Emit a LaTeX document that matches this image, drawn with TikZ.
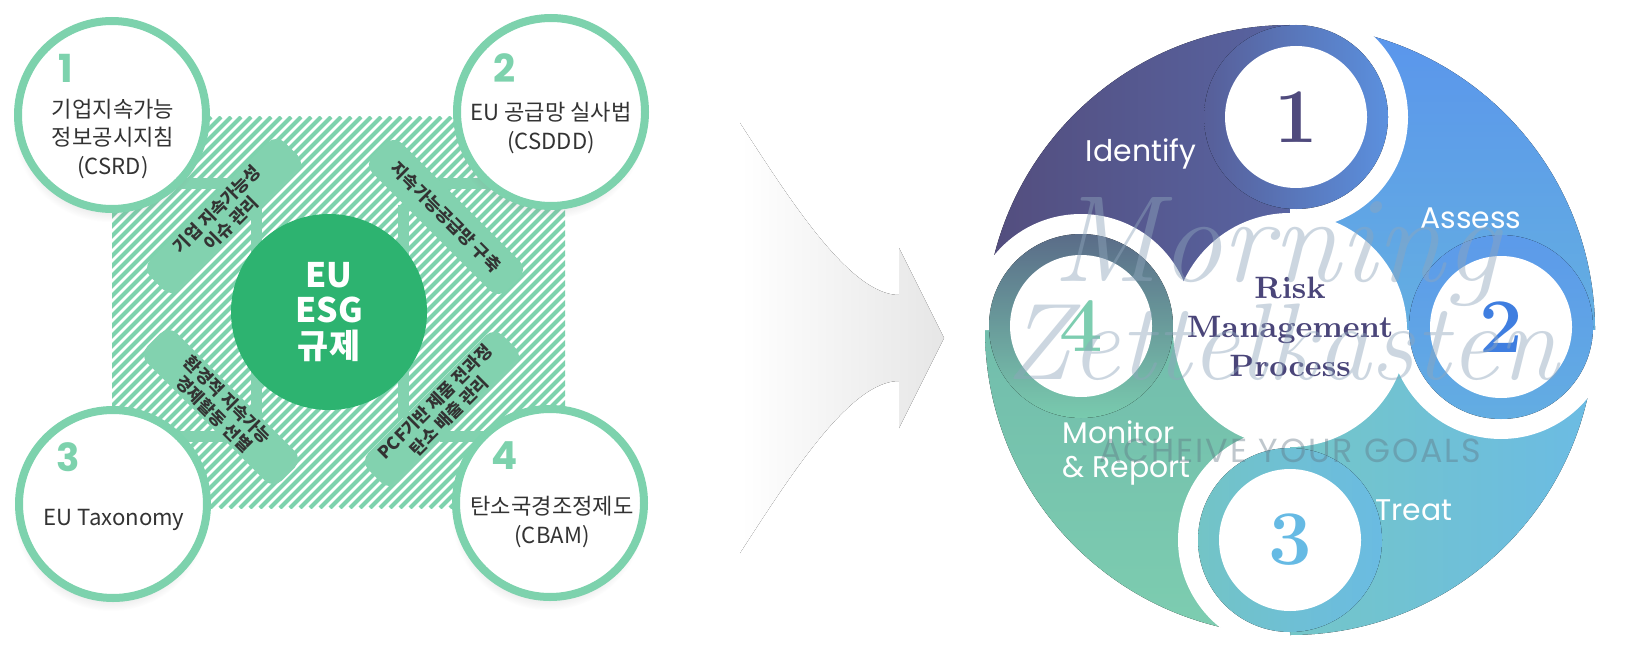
\documentclass[tikz,border=0pt]{standalone}
\usepackage{fontspec}
\newfontfamily\kr{Noto Sans CJK KR}
\newfontfamily\poppins{Poppins}
\newfontfamily\wmsans[LetterSpace=6]{Poppins}
\usetikzlibrary{shadows,backgrounds}
% colours of the left diagram
\definecolor{ringgreen}{HTML}{7DD2AD}
\definecolor{bandgreen}{HTML}{82D2AF}
\definecolor{esggreen}{HTML}{2DB370}
\definecolor{textgray}{HTML}{333333}
\definecolor{arrowgray}{HTML}{E6E6E6}
% colours of the risk wheel
\definecolor{idA}{HTML}{534D7D}
\definecolor{idB}{HTML}{5864A2}
\definecolor{asA}{HTML}{5A95EC}
\definecolor{asB}{HTML}{64AFE1}
\definecolor{trA}{HTML}{74C6C8}
\definecolor{trB}{HTML}{6BBBE4}
\definecolor{moA}{HTML}{72BDAC}
\definecolor{moB}{HTML}{7DCDB0}
\definecolor{rA}{HTML}{575E98}
\definecolor{rB}{HTML}{5B90DE}
\definecolor{rC}{HTML}{5C9AEA}
\definecolor{rD}{HTML}{63ADE2}
\definecolor{rE}{HTML}{73C4C6}
\definecolor{rF}{HTML}{6ABBE2}
\definecolor{rG}{HTML}{5A6C88}
\definecolor{rH}{HTML}{79CBAE}
\definecolor{num1}{HTML}{4F4A7D}
\definecolor{num2}{HTML}{3F7EE0}
\definecolor{num3}{HTML}{66BAE4}
\definecolor{num4}{HTML}{7DCDB0}
\definecolor{rmpcol}{HTML}{4A4579}
\definecolor{wmgray}{HTML}{8FA6BC}
\definecolor{wmdark}{HTML}{5F7382}
\tikzset{
  topic/.style={circle, draw=ringgreen, line width=0.8mm, fill=white, minimum size=18.8mm, inner sep=0pt,
    circular drop shadow={shadow xshift=-0.2mm, shadow yshift=-1mm, opacity=0.2, shadow scale=1.03}},
  topictext/.style={align=center, text=textgray, font=\kr\fontsize{6.3pt}{8.2pt}\selectfont},
  topicnum/.style={text=ringgreen, font=\poppins\bfseries\fontsize{11pt}{11pt}\selectfont},
  band/.style={rounded corners=1.2mm, fill=bandgreen, minimum width=19mm, minimum height=4.2mm, inner sep=0pt,
    align=center, text=textgray, font=\kr\bfseries\fontsize{4.9pt}{5.7pt}\selectfont},
  stub/.style={draw=bandgreen, line width=1.1mm, line cap=butt},
  hatch/.style={draw=ringgreen, line width=0.4mm, line cap=butt},
  stepnum/.style={circle, fill=white, minimum size=14.2mm, inner sep=0pt, font=\bfseries\fontsize{22pt}{22pt}\selectfont},
  steplabel/.style={text=white, font=\poppins\fontsize{8.5pt}{9.7pt}\selectfont},
  wm/.style={text=wmgray, text opacity=0.45}
}
\begin{document}
\begin{tikzpicture}[x=0.1mm, y=-0.1mm, line join=round]
\useasboundingbox (0,0) rectangle (1627,652);
% ---------------- left: EU ESG regulations ----------------
\node[topic] (c1) at (112,115) {};
\node[topic] (c2) at (551,112) {};
\node[topic] (c3) at (113,504) {};
\node[topic] (c4) at (550,503) {};
\node[topicnum] (k1) at (66,68) {1};
\node[topicnum] (k2) at (505,68) {2};
\node[topicnum] (k3) at (68,457) {3};
\node[topicnum] (k4) at (505,456) {4};
\node[topictext] (t1) at (113,139) {기업지속가능\\정보공시지침\\(CSRD)};
\node[topictext] (t2) at (551,128) {EU 공급망 실사법\\(CSDDD)};
\node[topictext] (t3) at (114,520) {EU Taxonomy};
\node[topictext] (t4) at (552,522) {탄소국경조정제도\\(CBAM)};
% centre
\node[circle, fill=esggreen, minimum size=19.6mm, inner sep=0pt, align=center, text=white,
  font=\kr\bfseries\fontsize{9.6pt}{10pt}\selectfont] (eu) at (329,312) {EU\\ESG\\규제};
% diagonal bands
\node[band, rotate=45] (b1) at (224,216) {기업 지속가능성\\이슈 관리};
\node[band, rotate=-45] (b2) at (446,217) {지속가능공급망 구축};
\node[band, rotate=-45] (b3) at (221,407) {환경적 지속가능\\경제활동 선별};
\node[band, rotate=45] (b4) at (442,409) {PCF기반 제품 전과정\\탄소 배출 관리};
% hatched square behind everything
\begin{pgfonlayer}{background}
  \begin{scope}
    \clip (112,117) rectangle (565,508);
    \foreach \a in {-280,-270,...,570}
      \draw[hatch] (\a,508) -- ++(391,-391);
  \end{scope}
\end{pgfonlayer}
% connectors
\coordinate (s1) at (240,184);
\coordinate (s2) at (440,184);
\coordinate (s3) at (240,436);
\coordinate (s4) at (440,436);
\coordinate (v1) at (256,205);
\coordinate (v2) at (403,205);
\coordinate (v3) at (256,418);
\coordinate (v4) at (403,418);
\begin{pgfonlayer}{background}
  \draw[stub] (c1 |- s1) -- (s1);
  \draw[stub] (s2) -- (c2 |- s2);
  \draw[stub] (c3 |- s3) -- (s3);
  \draw[stub] (s4) -- (c4 |- s4);
  \foreach \v in {v1,v2,v3,v4}
    \draw[stub] (\v) -- (\v |- eu);
\end{pgfonlayer}
% ---------------- middle: big faded arrow ----------------
\fill[left color=white, right color=arrowgray]
  (740,123) .. controls (790,200) and (850,295) .. (899,295) -- (899,248) -- (944,338)
  -- (899,428) -- (899,381) .. controls (850,381) and (790,476) .. (740,553) -- cycle;
% ---------------- right: risk management wheel ----------------
\begin{scope}[shift={(1290,330)}, y=0.1mm]
\def\R{305}   % outer radius
\def\rring{92}
\def\rgap{112}
\coordinate (p1) at (6,213);
\coordinate (p2) at (211,3);
\coordinate (p3) at (0,-210);
\coordinate (p4) at (-209,4);
% four quarters
\fill[left color=idA, right color=idB] (0,0) -- (90:\R) arc[start angle=90, end angle=180, radius=\R] -- cycle;
\fill[top color=asA, bottom color=asB] (0,0) -- (0:\R) arc[start angle=0, end angle=90, radius=\R] -- cycle;
\fill[left color=trA, right color=trB] (0,0) -- (-90:\R) arc[start angle=-90, end angle=0, radius=\R] -- cycle;
\fill[top color=moA, bottom color=moB] (0,0) -- (180:\R) arc[start angle=180, end angle=270, radius=\R] -- cycle;
% white gaps in front of each head
\foreach \p/\a in {p1/0, p2/-90, p3/180, p4/90} {
  \begin{scope}
    \clip (0,0) -- (\a:400) arc[start angle=\a, end angle=\a+90, radius=400] -- cycle;
    \fill[white] (\p) circle[radius=\rgap];
  \end{scope}
}
% rings round the numbers
\fill[left color=rA, right color=rB] (p1) circle[radius=\rring];
\fill[top color=rC, bottom color=rD] (p2) circle[radius=\rring];
\fill[left color=rE, right color=rF] (p3) circle[radius=\rring];
\fill[top color=rG, bottom color=rH] (p4) circle[radius=\rring];
\node[stepnum, text=num1] (n1) at (p1) {1};
\node[stepnum, text=num2] (n2) at (p2) {2};
\node[stepnum, text=num3] (n3) at (p3) {3};
\node[stepnum, text=num4] (n4) at (p4) {4};
% centre
\node[circle, fill=white, minimum size=23.4mm, inner sep=0pt] (core) at (0,0) {};
\node[align=center, text=rmpcol, font=\bfseries\fontsize{8.8pt}{11pt}\selectfont] (rmp) at (0,3) {Risk\\Management\\Process};
% step names
\node[steplabel] (l1) at (-149,176) {Identify};
\node[steplabel] (l2) at (181,112) {Assess};
\node[steplabel] (l3) at (124,-180) {Treat};
\node[steplabel, align=left, anchor=west] (l4) at (-240,-123) {Monitor\\\& Report};
% watermark
\node[wm, font=\itshape\fontsize{35pt}{35pt}\selectfont] (wm1) at (-14,78) {Morning};
\node[wm, font=\itshape\fontsize{31pt}{31pt}\selectfont] (wm2) at (-8,-12) {Zettelkasten};
\node[wm, text=wmdark, text opacity=0.4, font=\wmsans\fontsize{9.5pt}{9.5pt}\selectfont] (wm3) at (0,-121) {ACHEIVE YOUR GOALS};
\end{scope}
\end{tikzpicture}
\end{document}
